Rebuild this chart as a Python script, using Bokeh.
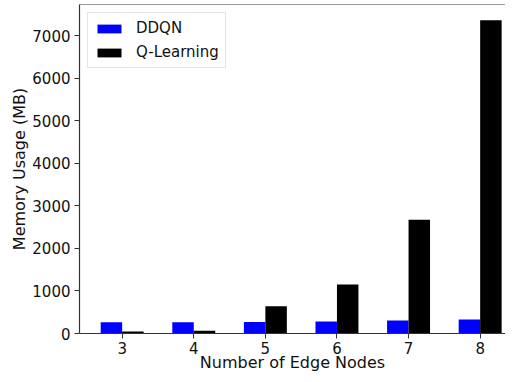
from bokeh.plotting import figure
from bokeh.models import ColumnDataSource, FixedTicker, Span, Range1d, Legend, LegendItem
from bokeh.transform import dodge
from bokeh.embed import file_html
from bokeh.resources import INLINE

nodes = [3, 4, 5, 6, 7, 8]
ddqn = [262, 262, 268, 282, 305, 330]
qlearning = [45, 65, 641, 1151, 2678, 7370]
y_ticks = [0, 1000, 2000, 3000, 4000, 5000, 6000, 7000]
series_names = ["DDQN", "Q-Learning"]

src = ColumnDataSource(dict(nodes=nodes, ddqn=ddqn, q=qlearning))

FONT = "DejaVu Sans"
Y_END = 7738

p = figure(width=505, height=374, output_backend="svg", toolbar_location=None,
           x_range=Range1d(2.404, 8.354), y_range=Range1d(0, Y_END),
           min_border_left=79, min_border_right=0, min_border_top=4, min_border_bottom=41)

r1 = p.vbar(x=dodge("nodes", -0.15, range=p.x_range), top="ddqn", width=0.3, source=src,
            fill_color="#0000ff", line_color=None)
r2 = p.vbar(x=dodge("nodes", 0.15, range=p.x_range), top="q", width=0.3, source=src,
            fill_color="#000000", line_color=None)

p.outline_line_color = None
p.add_layout(Span(location=Y_END, dimension="width", line_color="#333333", line_width=1.2))
p.xgrid.grid_line_color = None
p.ygrid.grid_line_color = None

p.xaxis.ticker = FixedTicker(ticks=nodes)
p.yaxis.ticker = FixedTicker(ticks=y_ticks)
for ax in (p.xaxis[0], p.yaxis[0]):
    ax.major_label_text_font = FONT
    ax.major_label_text_font_size = "15px"
    ax.major_label_text_color = "#111111"
    ax.major_label_text_line_height = 1.0
    ax.axis_label_text_font = FONT
    ax.axis_label_text_font_size = "16px"
    ax.axis_label_text_font_style = "normal"
    ax.axis_label_text_color = "#111111"
    ax.axis_label_text_line_height = 1.0
    ax.axis_line_color = "#333333"
    ax.axis_line_width = 1.2
    ax.major_tick_line_color = "#333333"
    ax.major_tick_out = 5
    ax.major_tick_in = 0
    ax.minor_tick_line_color = None
    ax.major_label_standoff = 4
p.xaxis.axis_label = "Number of Edge Nodes"
p.yaxis.axis_label = "Memory Usage (MB)"
p.yaxis.axis_label_standoff = 0
p.xaxis.major_label_standoff = 3
p.xaxis.axis_label_standoff = -4

legend = Legend(items=[LegendItem(label=series_names[0], renderers=[r1]),
                       LegendItem(label=series_names[1], renderers=[r2])],
                location="top_left")
legend.label_text_font = FONT
legend.label_text_font_size = "15px"
legend.label_text_color = "#111111"
legend.glyph_width = 30
legend.glyph_height = 11
legend.label_height = 16
legend.label_standoff = 12
legend.spacing = 6
legend.padding = 6
legend.margin = 8
legend.border_line_color = "#cccccc"
legend.border_line_width = 1
legend.background_fill_alpha = 1
p.add_layout(legend)

open("out.html", "w").write(file_html(p, INLINE))
